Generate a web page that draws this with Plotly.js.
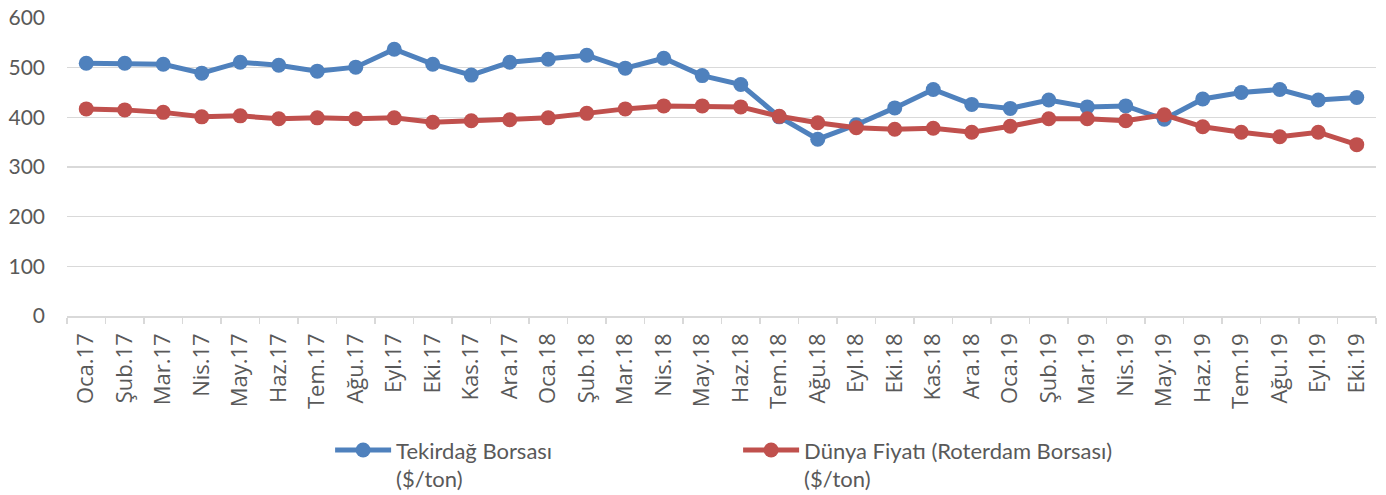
<!DOCTYPE html>
<html>
<head>
<meta charset="utf-8">
<script src="https://cdn.plot.ly/plotly-3.0.1.min.js"></script>
<style>html,body{margin:0;padding:0;background:#fff;}#chart{width:1386px;height:495px;}</style>
</head>
<body>
<div id="chart"></div>
<script>
const months = ["Oca.17","Şub.17","Mar.17","Nis.17","May.17","Haz.17","Tem.17","Ağu.17","Eyl.17","Eki.17","Kas.17","Ara.17",
  "Oca.18","Şub.18","Mar.18","Nis.18","May.18","Haz.18","Tem.18","Ağu.18","Eyl.18","Eki.18","Kas.18","Ara.18",
  "Oca.19","Şub.19","Mar.19","Nis.19","May.19","Haz.19","Tem.19","Ağu.19","Eyl.19","Eki.19"];
const tekirdag = [509,509,507,489,511,505,493,501,537,507,485,511,
  517,525,499,519,484,466,401,356,385,419,456,426,
  418,435,421,423,396,437,450,456,435,440];
const dunya = [417,415,410,401,403,397,399,397,399,390,393,395,
  399,408,417,423,423,421,402,389,379,376,378,370,
  382,397,397,393,405,381,370,361,370,345];
const seriesNames = ["Tekirdağ Borsası<br>($/ton)", "Dünya Fiyatı (Roterdam Borsası)<br>($/ton)"];

const traces = [
  {x: months, y: tekirdag, name: seriesNames[0], type: 'scatter', mode: 'lines+markers',
   line: {color: '#4F81BD', width: 5}, marker: {color: '#4F81BD', size: 15}},
  {x: months, y: dunya, name: seriesNames[1], type: 'scatter', mode: 'lines+markers',
   line: {color: '#C0504D', width: 5}, marker: {color: '#C0504D', size: 15}}
];

const layout = {
  width: 1386, height: 495,
  margin: {l: 67, r: 10, t: 18, b: 179},
  paper_bgcolor: '#fff', plot_bgcolor: '#fff',
  font: {family: 'Open Sans', color: '#595959'},
  showlegend: true,
  legend: {orientation: 'h', x: 0.201, xanchor: 'left', xref: 'paper',
    y: 0.133, yanchor: 'top', yref: 'container',
    itemwidth: 56,
    entrywidth: 337, entrywidthmode: 'pixels', valign: 'top',
    font: {family: 'Lato', size: 22, color: '#595959'}},
  xaxis: {type: 'category', range: [-0.5, 33.5], tickangle: -90, automargin: false,
    tickfont: {family: 'Open Sans', size: 22, color: '#595959'},
    ticks: 'outside', tickson: 'boundaries', ticklen: 6, tickcolor: '#D9D9D9', tickwidth: 1.5,
    ticklabelstandoff: 7,
    showline: true, linecolor: '#D9D9D9', linewidth: 1.5, showgrid: false, zeroline: false},
  yaxis: {range: [0, 600], dtick: 100, automargin: false,
    tickfont: {family: 'Lato', size: 21, color: '#595959'},
    gridcolor: '#D9D9D9', gridwidth: 1.5, zeroline: false, showline: false,
    ticklabelstandoff: 21}
};

Plotly.newPlot('chart', traces, layout, {displayModeBar: false, staticPlot: true});
</script>
</body>
</html>
